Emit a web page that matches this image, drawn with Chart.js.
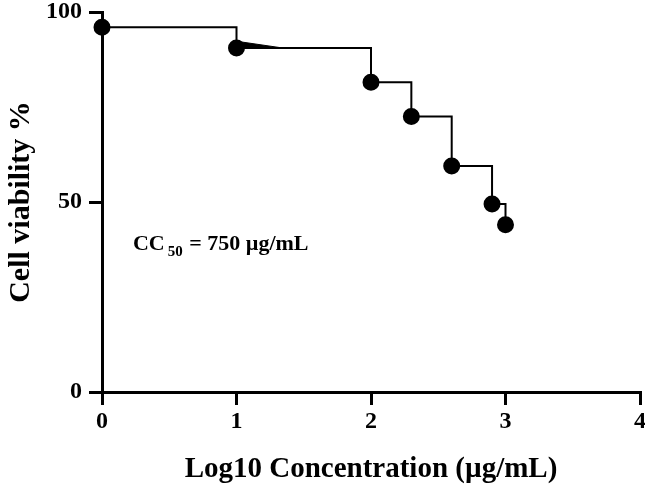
<!DOCTYPE html>
<html>
<head>
<meta charset="utf-8">
<script src="https://cdn.jsdelivr.net/npm/chart.js@4"></script>
<style>
  html, body { margin: 0; padding: 0; background: #fff; }
  #wrap { width: 645px; height: 494px; }
</style>
</head>
<body>
<div id="wrap"><canvas id="chart"></canvas></div>
<script>
// log10 concentration vs viability
const logConc = [0, 1, 2, 2.3, 2.6, 2.9, 3];
const viability = [96, 90.5, 81.5, 72.5, 59.5, 49.5, 44];
// small dark wedge right of the second point
const wedgeX = [1, 1.33, 1];
const wedgeY = [92.3, 90.6, 90.6];
const xTicks = [0, 1, 2, 3, 4];
const yTicks = [0, 50, 100];

const SERIF = '"Liberation Serif", "Times New Roman", serif';

// CC50 label with subscript
const cc50Label = {
    id: 'cc50Label',
    afterDraw(chart) {
        const { ctx, scales } = chart;
        const x = scales.x.getPixelForValue(0.23);
        const y = scales.y.getPixelForValue(37.3);
        ctx.save();
        ctx.fillStyle = '#000';
        ctx.textBaseline = 'alphabetic';
        ctx.font = 'bold 22px ' + SERIF;
        ctx.fillText('CC', x, y);
        let w = ctx.measureText('CC').width + 3;
        ctx.font = 'bold 15px ' + SERIF;
        ctx.fillText('50', x + w, y + 6);
        w += ctx.measureText('50').width + 1;
        ctx.font = 'bold 22px ' + SERIF;
        ctx.fillText(' = 750 µg/mL', x + w, y);
        ctx.restore();
    },
};

new Chart(document.getElementById('chart'), {
    type: 'line',
    data: {
        datasets: [
            {
                data: logConc.map((x, i) => ({ x, y: viability[i] })),
                borderColor: '#000',
                backgroundColor: '#000',
                borderWidth: 2,
                stepped: 'before',
                pointRadius: 7.5,
                pointHoverRadius: 7.5,
                clip: false,
                fill: false,
            },
            {
                data: wedgeX.map((x, i) => ({ x, y: wedgeY[i] })),
                borderColor: '#000',
                backgroundColor: '#000',
                borderWidth: 1,
                pointRadius: 0,
                fill: 'shape',
            },
        ],
    },
    options: {
        responsive: true,
        maintainAspectRatio: false,
        animation: false,
        layout: { autoPadding: false, padding: { top: 12, right: 5, left: 3, bottom: 5 } },
        plugins: {
            legend: { display: false },
            tooltip: { enabled: false },
        },
        scales: {
            x: {
                type: 'linear',
                min: 0,
                max: 4,
                afterBuildTicks: (axis) => { axis.ticks = xTicks.map((v) => ({ value: v })); },
                afterFit: (axis) => {
                    axis.height = 97;
                    axis.paddingLeft = 0;
                    axis.paddingRight = 0;
                },
                border: { color: '#000', width: 3 },
                grid: { drawOnChartArea: false, color: '#000', lineWidth: 3, tickLength: 13 },
                ticks: { color: '#000', font: { family: SERIF, size: 24, weight: 'bold' }, padding: 2 },
                title: {
                    display: true,
                    text: 'Log10 Concentration (µg/mL)',
                    color: '#000',
                    font: { family: SERIF, size: 29, weight: 'bold' },
                    padding: { top: 0, bottom: 2 },
                },
            },
            y: {
                min: 0,
                max: 100,
                afterBuildTicks: (axis) => { axis.ticks = yTicks.map((v) => ({ value: v })); },
                afterFit: (axis) => {
                    axis.width = 99;
                    axis.paddingTop = 0;
                    axis.paddingBottom = 0;
                },
                border: { color: '#000', width: 3 },
                grid: { drawOnChartArea: false, color: '#000', lineWidth: 3, tickLength: 13 },
                ticks: { color: '#000', font: { family: SERIF, size: 24, weight: 'bold' }, padding: 7 },
                title: {
                    display: true,
                    text: 'Cell viability %',
                    color: '#000',
                    font: { family: SERIF, size: 30, weight: 'bold' },
                    padding: { top: 0, bottom: 0 },
                },
            },
        },
    },
    plugins: [cc50Label],
});
</script>
</body>
</html>
